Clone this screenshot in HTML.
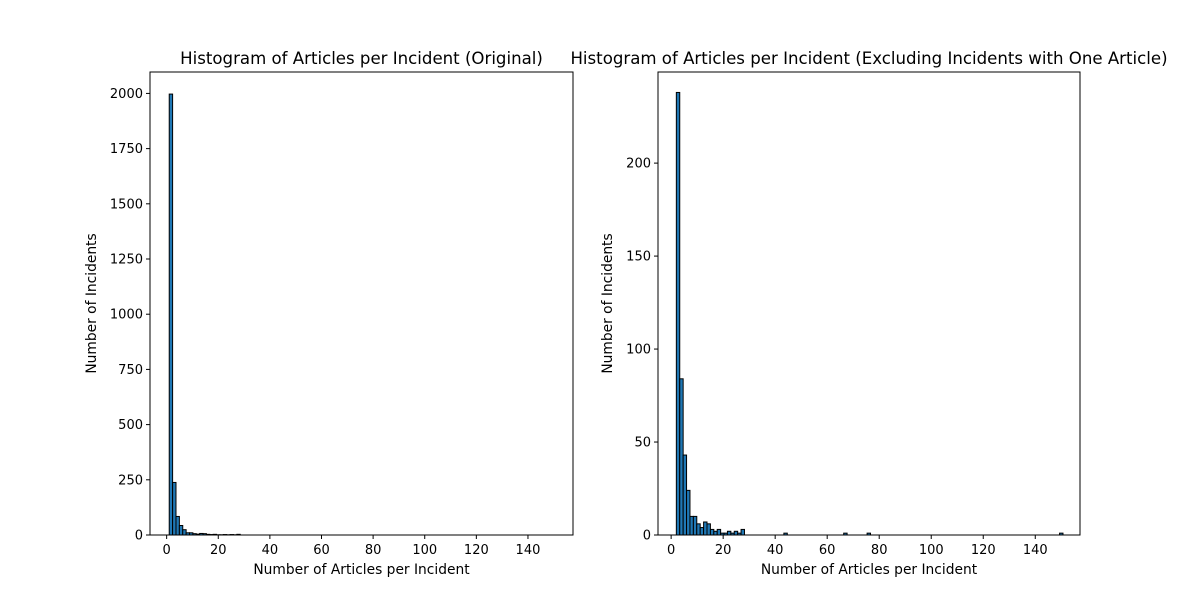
<!DOCTYPE html>
<html><head><meta charset="utf-8"><style>
body{margin:0;background:#fff}
svg text{font-family:"DejaVu Sans","Liberation Sans",sans-serif;fill:#000}
</style></head><body>
<svg id="c" width="1200" height="600" xmlns="http://www.w3.org/2000/svg"></svg>
<script>
// Data: counts per bin, starting at bin start value
const leftCounts = [1997,238,84,43,24,10,10,6,4,7,6,3,2,3,1,1,2,1,2,1,3];
const leftStart = 1;
const rightCounts = [238,84,43,24,10,10,6,4,7,6,3,2,3,1,1,2,1,2,1,3];
const rightStart = 2;
const rightOutliers = [[44,1],[67,1],[76,1],[150,1]];
const leftOutliers = [[44,1],[67,1],[76,1],[150,1]];
const xTicks = [0,20,40,60,80,100,120,140];
const leftYTicks = [0,250,500,750,1000,1250,1500,1750,2000];
const rightYTicks = [0,50,100,150,200];

const svg = document.getElementById('c');
const NS = 'http://www.w3.org/2000/svg';
function el(tag, attrs, parent){const e=document.createElementNS(NS,tag);for(const k in attrs)e.setAttribute(k,attrs[k]);(parent||svg).appendChild(e);return e;}

function panel(cfg){
  const g = el('g',{});
  
  
  const {x0,x1,y0,y1,xmin,xmax,ymax} = cfg;
  const sx = v => x0 + (v - xmin)/(xmax - xmin)*(x1 - x0);
  const sy = v => y1 - v/ymax*(y1 - y0);
  const bw = cfg.binWidth;
  cfg.counts.forEach((c,i)=>{
    if(c<=0) return;
    const a = cfg.start + i*bw;
    const r = el('rect',{x:sx(a),y:sy(c),width:sx(a+bw)-sx(a),height:sy(0)-sy(c),fill:'#1f77b4',stroke:'#000','stroke-width':1},g);
    
    
  });
  cfg.outliers.forEach(([v,c])=>{
    const a = v - bw/2;
    const r = el('rect',{x:sx(a),y:sy(c),width:sx(a+bw)-sx(a),height:sy(0)-sy(c),fill:'#1f77b4',stroke:'#000','stroke-width':1},g);
    
    
  });
  const f = el('rect',{x:x0,y:y0,width:x1-x0,height:y1-y0,fill:'none',stroke:'#000','stroke-width':1},g);
  
  
  xTicks.forEach(t=>{
    const x=sx(t);
    el('line',{x1:x,x2:x,y1:y1,y2:y1+4,stroke:'#000'},g);
    const tx=el('text',{x:x,y:y1+19,'text-anchor':'middle','font-size':13},g);
    tx.textContent=t;
    
    
  });
  cfg.yTicks.forEach(t=>{
    const y=sy(t);
    el('line',{x1:x0-4,x2:x0,y1:y,y2:y,stroke:'#000'},g);
    const tx=el('text',{x:x0-7,y:y+4.5,'text-anchor':'end','font-size':13},g);
    tx.textContent=t;
    
    
  });
  const xl=el('text',{x:(x0+x1)/2,y:574,'text-anchor':'middle','font-size':13.8},g);
  xl.textContent='Number of Articles per Incident';
  
  
  const yl=el('text',{x:0,y:0,'text-anchor':'middle','font-size':13.8,transform:`translate(${cfg.ylx},${(y0+y1)/2}) rotate(-90)`},g);
  yl.textContent='Number of Incidents';
  
  
  const ti=el('text',{x:(x0+x1)/2,y:64,'text-anchor':'middle','font-size':16.6},g);
  ti.textContent=cfg.title;
  
  
}
panel({name:'left-histogram',x0:150,x1:573,y0:72,y1:535,xmin:-6.45,xmax:157.45,ymax:2097,counts:leftCounts,start:leftStart,binWidth:1.31,outliers:[],yTicks:leftYTicks,ylx:96,title:'Histogram of Articles per Incident (Original)'});
panel({name:'right-histogram',x0:658,x1:1080,y0:72,y1:535,xmin:-5.05,xmax:157.2,ymax:249,counts:rightCounts,start:rightStart,binWidth:1.31,outliers:rightOutliers,yTicks:rightYTicks,ylx:612,title:'Histogram of Articles per Incident (Excluding Incidents with One Article)'});
</script>
</body></html>
